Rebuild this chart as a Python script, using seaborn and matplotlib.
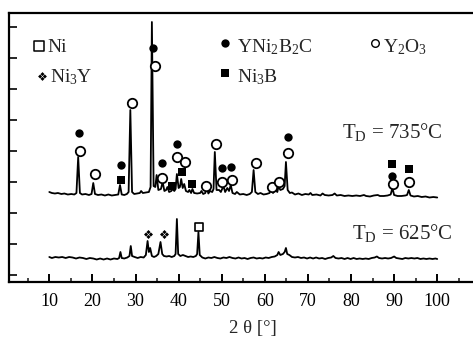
import numpy as np
import pandas as pd
import matplotlib
matplotlib.use("Agg")
import matplotlib.pyplot as plt
from matplotlib.path import Path
from matplotlib.markers import MarkerStyle
import seaborn as sns

# ---------------- data ----------------
# upper pattern, T_D = 735 C  (2theta, intensity a.u.)
up_x = [10.0, 10.6, 11.3, 12.0, 12.8, 13.5, 14.3, 15.1, 15.8, 16.3, 16.7, 17.1, 17.6, 18.4, 19.2, 19.8,
        20.2, 20.6, 21.3, 22.1, 22.9, 23.7, 24.5, 25.3, 26.0, 26.4, 26.8, 27.4, 28.0, 28.4, 28.8, 29.2,
        29.7, 30.4, 31.0, 31.3, 31.7, 32.4, 33.1, 33.5, 33.8, 34.2, 34.6, 34.9, 35.3, 35.9, 36.3, 36.7,
        37.1, 37.4, 37.8, 38.3, 38.6, 39.0, 39.3, 39.6, 40.0, 40.3, 40.6, 40.95, 41.3, 41.7, 42.2, 42.5,
        42.9, 43.2, 43.6, 44.3, 45.0, 45.3, 45.7, 46.2, 46.5, 46.9, 47.3, 47.8, 48.1, 48.4, 48.8, 49.4,
        49.8, 50.4, 50.8, 51.3, 51.7, 52.1, 52.5, 53.1, 53.5, 54.2, 55.0, 55.8, 56.5, 57.0, 57.4, 57.8,
        58.4, 59.0, 59.7, 60.4, 61.1, 61.5, 61.9, 62.5, 62.9, 63.2, 63.6, 64.2, 64.6, 64.9, 65.3, 65.8,
        66.3, 67.0, 67.8, 68.6, 69.4, 70.2, 70.6, 71.0, 72.0, 72.9, 73.4, 73.9, 74.8, 75.7, 76.2, 76.7,
        77.6, 78.5, 79.4, 80.3, 81.2, 82.1, 83.0, 83.5, 84.4, 85.3, 86.2, 86.7, 87.6, 88.5, 89.2, 89.6,
        90.0, 90.8, 91.7, 92.6, 93.0, 93.4, 93.8, 94.6, 95.5, 96.4, 97.3, 98.2, 99.1, 100.0]
up_y = [90, 89, 88.5, 89, 88, 88.5, 87.5, 88, 87.5, 89, 125, 89, 87.5, 88, 87, 88,
        99, 88, 87, 87.5, 86.5, 87.5, 86.5, 87, 87.5, 97, 87.5, 87, 88, 90, 172, 90,
        88, 88.5, 89, 91, 89, 89.5, 90, 95, 260, 96, 95, 107, 92, 93, 100, 91,
        92, 95, 90, 91, 93, 91, 93, 108, 94, 95, 103, 94, 98, 91, 90, 92,
        89, 93, 89, 88.5, 89, 91, 88, 89, 95, 88.5, 91, 90, 93, 130, 92, 92,
        90, 96, 90, 94, 91, 97, 89, 88, 90, 87.5, 88, 87, 88, 90, 112, 90,
        88, 89, 87.5, 88, 89, 94, 89, 92, 90, 96, 92, 93, 96, 120, 92, 89,
        89.5, 87.5, 88.5, 87, 88, 87.5, 89, 87, 87.5, 86.5, 88.5, 87, 86.5, 87, 88.5, 86.5,
        87, 86, 86.5, 86, 86.5, 86, 87, 86, 85.5, 86.5, 87, 86, 86, 86.5, 87.5, 94,
        87, 86, 86, 86.5, 87, 92, 86.5, 85.5, 86, 85, 85.5, 84.5, 85, 84.5]

# lower pattern, T_D = 625 C
lo_x = [10.0, 10.6, 11.4, 12.2, 13.0, 13.8, 14.6, 15.4, 16.2, 17.0, 17.8, 18.6, 19.4, 20.2, 21.0, 21.8,
        22.6, 23.4, 24.2, 25.0, 25.8, 26.2, 26.5, 26.8, 27.4, 28.1, 28.6, 28.9, 29.2, 29.8, 30.5, 31.2,
        31.9, 32.4, 32.8, 33.1, 33.4, 33.8, 34.3, 34.8, 35.3, 35.8, 36.2, 36.6, 37.2, 37.8, 38.4, 39.0,
        39.3, 39.6, 39.9, 40.4, 41.0, 41.6, 42.2, 42.8, 43.4, 44.0, 44.3, 44.6, 44.9, 45.5, 46.2, 46.9,
        47.6, 48.3, 49.0, 49.7, 50.4, 51.1, 51.8, 52.5, 53.2, 53.9, 54.6, 55.3, 56.0, 56.7, 57.4, 58.1,
        58.8, 59.5, 60.2, 60.9, 61.6, 62.3, 62.9, 63.2, 63.6, 64.2, 64.6, 64.9, 65.2, 65.7, 66.3, 67.0,
        67.7, 68.4, 69.1, 69.8, 70.5, 71.2, 71.9, 72.6, 73.3, 74.0, 74.7, 75.4, 75.9, 76.4, 77.1, 77.8,
        78.5, 79.2, 79.9, 80.6, 81.3, 82.0, 82.7, 83.4, 84.1, 84.8, 85.5, 86.0, 86.5, 87.2, 87.9, 88.6,
        89.3, 90.0, 90.5, 91.2, 91.9, 92.6, 93.3, 94.0, 94.7, 95.4, 96.1, 96.8, 97.5, 98.2, 98.9, 99.6,
        100.0]
lo_y = [25, 24, 25, 24.5, 25, 24, 25, 24.5, 23.5, 24.5, 24, 23, 24, 23.5, 22.5, 23.5,
        22.5, 23.5, 22.5, 23.5, 23, 24, 30, 24, 23.5, 24.5, 26, 36, 26, 25, 24, 25,
        24.5, 27, 41, 30, 34, 26, 25, 26, 28, 40, 28, 26, 25.5, 26, 25, 26,
        28, 63, 28, 26, 27, 26, 25, 25.5, 25, 26, 28, 50, 27, 24.5, 23.5, 24.5,
        24, 25, 24, 23.5, 24.5, 24, 25, 24, 23.5, 24.5, 23.5, 24, 23, 24, 24.5, 23.5,
        24, 23.5, 24.5, 24, 25, 25.5, 27, 30, 27, 28, 30, 34, 28, 27, 25, 24.5,
        25, 24, 24.5, 23.5, 24.5, 23.5, 24.5, 23.5, 24, 23, 24, 24.5, 26, 24, 23.5, 24,
        23, 24, 23, 24, 23, 23.5, 23, 23.5, 23, 24, 24.5, 25.5, 24, 23.5, 24, 23.5,
        24, 25.5, 24, 23.5, 23, 24, 23.5, 24, 23.5, 24, 23, 23.5, 23, 23.5, 23, 23.5,
        23]

# phase markers
ynibc_x = [17.0, 26.6, 34.1, 36.2, 39.6, 50.0, 52.1, 65.4, 89.6]
ynibc_y = [149, 117, 234, 119, 138, 114, 115, 145, 106]
y2o3_x = [17.1, 20.6, 29.3, 34.5, 36.2, 39.6, 41.5, 46.4, 48.7, 50.0, 52.4, 57.9, 61.6, 63.3, 65.4, 89.7, 93.5]
y2o3_y = [131, 108, 179, 216, 104, 125, 120, 96, 138, 100, 102, 119, 95, 100, 129, 98, 100]
ni3b_x = [26.6, 38.4, 40.7, 43.0, 89.6, 93.5]
ni3b_y = [102, 96, 110, 98, 118, 113]
ni3y_x = [32.8, 36.5]
ni3y_y = [48, 48]
ni_x = [44.7]
ni_y = [55]

x_ticks = [10, 20, 30, 40, 50, 60, 70, 80, 90, 100]
y_ticks = [7, 38, 69, 100, 131, 162, 193, 224, 255]

# ---------------- style ----------------
sns.set_style("ticks")
plt.rcParams['font.family'] = ['Liberation Serif', 'DejaVu Serif']
plt.rcParams['mathtext.fontset'] = 'custom'
plt.rcParams['mathtext.rm'] = 'Liberation Serif'
plt.rcParams['mathtext.it'] = 'Liberation Serif'
plt.rcParams['mathtext.bf'] = 'Liberation Serif:bold'

# four-diamond marker (like the "❖" sign)
def four_diamonds():
    paths = []
    for dx, dy in [(0, 1), (1, 0), (0, -1), (-1, 0)]:
        verts = [(dx, dy + 0.85), (dx + 0.85, dy), (dx, dy - 0.85), (dx - 0.85, dy), (dx, dy + 0.85)]
        paths.append(Path(verts, [Path.MOVETO, Path.LINETO, Path.LINETO, Path.LINETO, Path.CLOSEPOLY]))
    return MarkerStyle(Path.make_compound_path(*paths))
DIAM = four_diamonds()

fig = plt.figure(figsize=(4.73, 3.37), dpi=100)
ax = fig.add_axes([9 / 473, 55 / 337, 464 / 473, 269 / 337])

up = pd.DataFrame({'x': up_x, 'y': up_y})
lo = pd.DataFrame({'x': lo_x, 'y': lo_y})
sns.lineplot(data=up, x='x', y='y', sort=False, color='black', lw=1.3, ax=ax, estimator=None)
sns.lineplot(data=lo, x='x', y='y', sort=False, color='black', lw=1.3, ax=ax, estimator=None)

sns.scatterplot(x=ynibc_x, y=ynibc_y, marker='o', s=36, color='black', edgecolor='black', linewidth=0, ax=ax, zorder=5)
sns.scatterplot(x=y2o3_x, y=y2o3_y, marker='o', s=46, facecolor='white', edgecolor='black', linewidth=1.3, ax=ax, zorder=6)
sns.scatterplot(x=ni3b_x, y=ni3b_y, marker='s', s=34, color='black', edgecolor='black', linewidth=0, ax=ax, zorder=5)
sns.scatterplot(x=ni3y_x, y=ni3y_y, marker=DIAM, s=42, color='black', edgecolor='black', linewidth=0, ax=ax, zorder=5)
sns.scatterplot(x=ni_x, y=ni_y, marker='s', s=40, facecolor='white', edgecolor='black', linewidth=1.2, ax=ax, zorder=5)

ax.set_xlim(0.65, 108.3)
ax.set_ylim(0, 269)
ax.set_xticks(x_ticks)
ax.set_xticks([t + 5 for t in [0] + x_ticks], minor=True)
ax.set_yticks(y_ticks)
ax.set_yticklabels([])
ax.tick_params(axis='x', which='major', direction='in', length=6, width=1.4, labelsize=13, pad=8, colors='black')
ax.tick_params(axis='x', which='minor', direction='in', length=3, width=1.2)
ax.tick_params(axis='y', which='major', direction='in', length=6, width=1.4)
ax.set_xlabel('')
ax.set_ylabel('')
for s in ['left', 'bottom', 'top']:
    ax.spines[s].set_linewidth(1.6)
    ax.spines[s].set_color('black')
ax.spines['right'].set_visible(False)

# axis title
ax.text((253 - 9) / 464, (282 - 329) / 269, '2 θ [°]', transform=ax.transAxes,
        ha='center', va='center', fontsize=13.5)

# legend (manual layout, as in the original)
def ax_xy(px, py):
    return ((px - 9) / 464, (282 - py) / 269)

leg = [
    ('s', 'white', 1.1, 44, (39, 46), 'Ni', (47, 47)),
    (DIAM, 'black', 0, 40, (42, 76), 'Ni$_3$Y', (50, 77)),
    ('o', 'black', 0, 36, (225, 43), 'YNi$_2$B$_2$C', (237, 47)),
    ('s', 'black', 0, 34, (225, 73), 'Ni$_3$B', (237, 77)),
    ('o', 'white', 1.0, 30, (375, 43), 'Y$_2$O$_3$', (383, 47)),
]
for mk, fc, lw, sz, mpos, label, tpos in leg:
    mx, my = ax_xy(*mpos)
    ax.scatter([mx], [my], marker=mk, s=sz, facecolor=fc, edgecolor='black', linewidth=lw,
               transform=ax.transAxes, zorder=7, clip_on=False)
    tx, ty = ax_xy(*tpos)
    ax.text(tx, ty, label, transform=ax.transAxes, ha='left', va='center', fontsize=14)

tx, ty = ax_xy(342, 132)
ax.text(tx, ty, 'T$_\\mathrm{D}$ = 735°C', transform=ax.transAxes, ha='left', va='center', fontsize=15)
tx, ty = ax_xy(352, 233)
ax.text(tx, ty, 'T$_\\mathrm{D}$ = 625°C', transform=ax.transAxes, ha='left', va='center', fontsize=15)

fig.savefig('out.png', dpi=100)
